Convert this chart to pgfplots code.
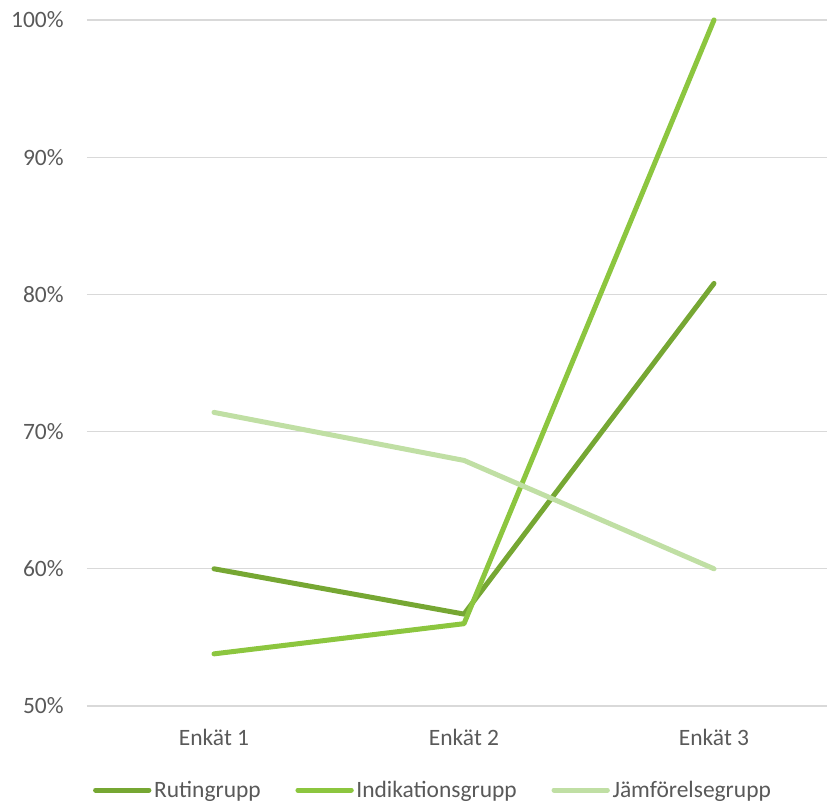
\documentclass[border=0pt]{standalone}
\usepackage{pgfplots}
\pgfplotsset{compat=1.18}
\usepackage{fontspec}
\setmainfont{Carlito}
\definecolor{cR}{HTML}{76A733}
\definecolor{cI}{HTML}{8CC63F}
\definecolor{cJ}{HTML}{C0DFA4}
\definecolor{txt}{HTML}{595959}
\definecolor{gridc}{HTML}{D9D9D9}
\begin{document}
\begin{tikzpicture}[x=0.75pt,y=0.75pt]
\path[use as bounding box] (-87,-97) rectangle (740,706);
\begin{axis}[
  at={(0,0)}, anchor=south west,
  scale only axis, width=555pt, height=514.5pt,
  xmin=-0.508, xmax=2.452, ymin=50, ymax=100,
  xtick={0,1,2}, xticklabels={Enkät 1,Enkät 2,Enkät 3},
  ytick={50,60,70,80,90,100},
  yticklabel={\pgfmathprintnumber{\tick}\%},
  /pgf/number format/assume math mode=true,
  xmajorgrids=false, ymajorgrids=true,
  major grid style={draw=gridc, line width=0.9pt},
  axis line style={draw=none},
  major tick length=0pt,
  tick label style={font=\fontsize{17.6}{20}\selectfont, text=txt},
  yticklabel style={xshift=-14pt},
  xticklabel style={yshift=-14pt},
  clip=false,
  legend columns=3,
  legend style={at={(0.468,-0.101)}, anchor=north, draw=none,
    font=\fontsize{17.6}{20}\selectfont, text=txt,
    /tikz/every even column/.append style={column sep=24pt}},
  legend image code/.code={\draw[#1, line cap=round] (0pt,0pt) -- (40pt,0pt);},
  every axis plot/.append style={line width=3.75pt, line join=round, line cap=round},
]
\addplot[cR] coordinates {(0,60.0) (1,56.7) (2,80.8)};
\addplot[cI] coordinates {(0,53.8) (1,56.0) (2,100.0)};
\addplot[cJ] coordinates {(0,71.4) (1,67.9) (2,60.0)};
\legend{Rutingrupp,Indikationsgrupp,Jämförelsegrupp}
\end{axis}
\end{tikzpicture}
\end{document}
